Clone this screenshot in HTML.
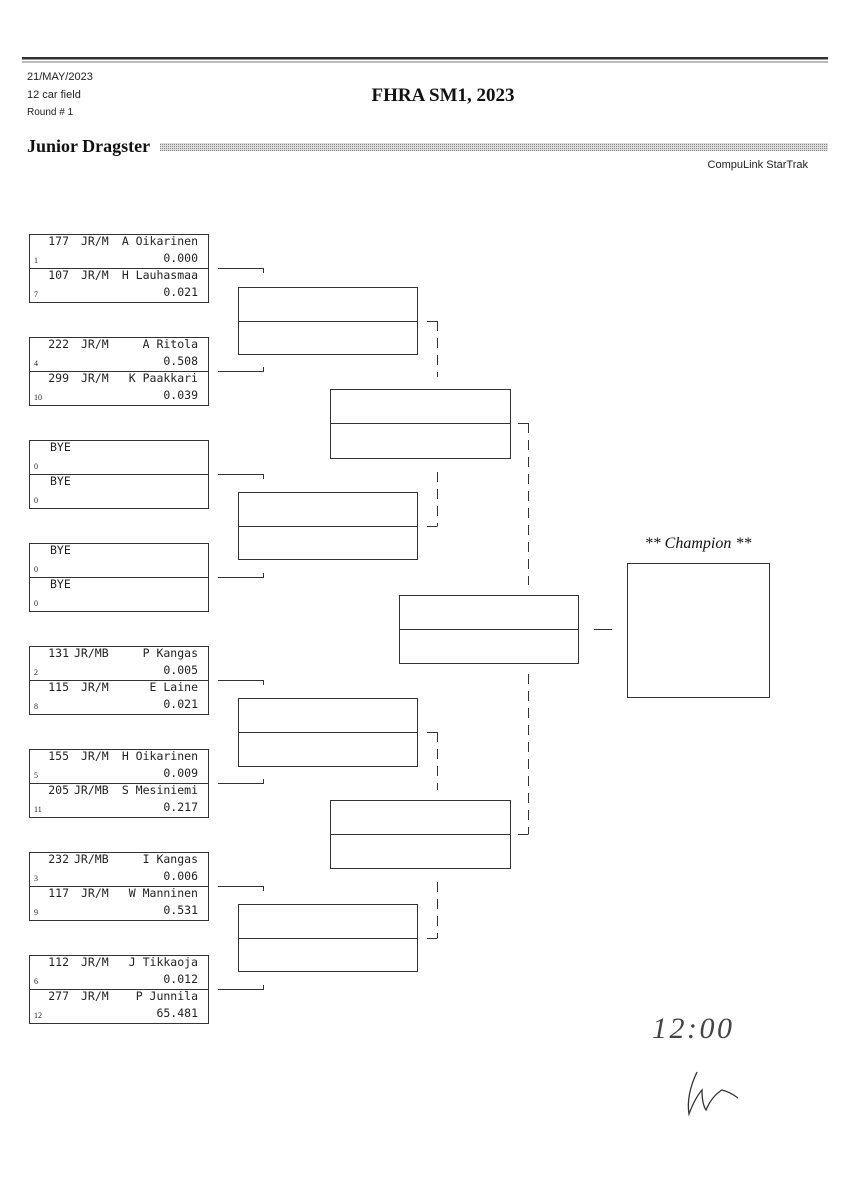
<!DOCTYPE html>
<html><head><meta charset="utf-8"><style>
html,body{margin:0;padding:0;background:#fff;}
svg{display:block}
.m{font-family:"DejaVu Sans Mono","Liberation Mono",monospace;font-size:11.5px;fill:#222}
.s{font-family:"Liberation Serif",serif;font-size:8px;fill:#222}
.h{font-family:"Liberation Sans",sans-serif;font-size:11px;fill:#222}
</style></head><body>
<svg width="848" height="1200" viewBox="0 0 848 1200" xmlns="http://www.w3.org/2000/svg">
<defs><pattern id="dots" width="2" height="2" patternUnits="userSpaceOnUse"><rect width="2" height="2" fill="#ddd"/><rect width="1" height="1" fill="#888"/></pattern></defs>
<rect x="22" y="57" width="806" height="2.5" fill="#333"/>
<rect x="22" y="61.5" width="806" height="1" fill="#777"/>
<text class="h" x="27" y="80">21/MAY/2023</text>
<text class="h" x="27" y="98">12 car field</text>
<text class="h" x="27" y="115" style="font-size:10px">Round # 1</text>
<text x="443" y="101" text-anchor="middle" style="font-family:'Liberation Serif',serif;font-weight:bold;font-size:19px" fill="#111">FHRA SM1, 2023</text>
<text x="27" y="152" style="font-family:'Liberation Serif',serif;font-weight:bold;font-size:18px" fill="#111">Junior Dragster</text>
<rect x="160" y="143" width="668" height="8" fill="url(#dots)"/>
<text class="h" x="808" y="168" text-anchor="end">CompuLink StarTrak</text>
<g stroke="#333" stroke-width="1" fill="none">
<rect x="29.5" y="234.5" width="179" height="68"/><line x1="29" y1="268.5" x2="208" y2="268.5"/>
<rect x="29.5" y="337.5" width="179" height="68"/><line x1="29" y1="371.5" x2="208" y2="371.5"/>
<rect x="29.5" y="440.5" width="179" height="68"/><line x1="29" y1="474.5" x2="208" y2="474.5"/>
<rect x="29.5" y="543.5" width="179" height="68"/><line x1="29" y1="577.5" x2="208" y2="577.5"/>
<rect x="29.5" y="646.5" width="179" height="68"/><line x1="29" y1="680.5" x2="208" y2="680.5"/>
<rect x="29.5" y="749.5" width="179" height="68"/><line x1="29" y1="783.5" x2="208" y2="783.5"/>
<rect x="29.5" y="852.5" width="179" height="68"/><line x1="29" y1="886.5" x2="208" y2="886.5"/>
<rect x="29.5" y="955.5" width="179" height="68"/><line x1="29" y1="989.5" x2="208" y2="989.5"/>
<path d="M218 268.5H263.5V273"/><path d="M218 371.5H263.5V367"/>
<path d="M218 474.5H263.5V479"/><path d="M218 577.5H263.5V573"/>
<path d="M218 680.5H263.5V685"/><path d="M218 783.5H263.5V779"/>
<path d="M218 886.5H263.5V891"/><path d="M218 989.5H263.5V985"/>
<rect x="238.5" y="287.5" width="179" height="67"/><line x1="238" y1="321.5" x2="417" y2="321.5"/>
<rect x="238.5" y="492.5" width="179" height="67"/><line x1="238" y1="526.5" x2="417" y2="526.5"/>
<rect x="238.5" y="698.5" width="179" height="68"/><line x1="238" y1="732.5" x2="417" y2="732.5"/>
<rect x="238.5" y="904.5" width="179" height="67"/><line x1="238" y1="938.5" x2="417" y2="938.5"/>
<rect x="330.5" y="389.5" width="180" height="69"/><line x1="330" y1="423.5" x2="510" y2="423.5"/>
<rect x="330.5" y="800.5" width="180" height="68"/><line x1="330" y1="834.5" x2="510" y2="834.5"/>
<rect x="399.5" y="595.5" width="179" height="68"/><line x1="399" y1="629.5" x2="578" y2="629.5"/>
<line x1="594" y1="629.5" x2="612" y2="629.5"/>
<rect x="627.5" y="563.5" width="142" height="134"/>
<path d="M427 321.5H437.5"/><path d="M427 526.5H437.5"/>
<path d="M427 732.5H437.5"/><path d="M427 938.5H437.5"/>
<path d="M518 423.5H528.5"/><path d="M518 834.5H528.5"/>
</g>
<g stroke="#333" stroke-width="1" fill="none" stroke-dasharray="10,7">
<line x1="437.5" y1="321" x2="437.5" y2="377"/>
<line x1="437.5" y1="472" x2="437.5" y2="526"/>
<line x1="437.5" y1="732" x2="437.5" y2="790"/>
<line x1="437.5" y1="882" x2="437.5" y2="938"/>
<line x1="528.5" y1="423" x2="528.5" y2="585"/>
<line x1="528.5" y1="674" x2="528.5" y2="834"/>
</g>
<text x="698" y="548" text-anchor="middle" style="font-family:'Liberation Serif',serif;font-style:italic;font-size:16px" fill="#111">** Champion **</text>
<g class="m">
<text x="69" y="245" text-anchor="end">177</text><text x="81" y="245">JR/M</text><text x="198" y="245" text-anchor="end">A Oikarinen</text><text x="198" y="262" text-anchor="end">0.000</text>
<text x="69" y="279" text-anchor="end">107</text><text x="81" y="279">JR/M</text><text x="198" y="279" text-anchor="end">H Lauhasmaa</text><text x="198" y="296" text-anchor="end">0.021</text>
<text x="69" y="348" text-anchor="end">222</text><text x="81" y="348">JR/M</text><text x="198" y="348" text-anchor="end">A Ritola</text><text x="198" y="365" text-anchor="end">0.508</text>
<text x="69" y="382" text-anchor="end">299</text><text x="81" y="382">JR/M</text><text x="198" y="382" text-anchor="end">K Paakkari</text><text x="198" y="399" text-anchor="end">0.039</text>
<text x="50" y="451">BYE</text><text x="50" y="485">BYE</text>
<text x="50" y="554">BYE</text><text x="50" y="588">BYE</text>
<text x="69" y="657" text-anchor="end">131</text><text x="74" y="657">JR/MB</text><text x="198" y="657" text-anchor="end">P Kangas</text><text x="198" y="674" text-anchor="end">0.005</text>
<text x="69" y="691" text-anchor="end">115</text><text x="81" y="691">JR/M</text><text x="198" y="691" text-anchor="end">E Laine</text><text x="198" y="708" text-anchor="end">0.021</text>
<text x="69" y="760" text-anchor="end">155</text><text x="81" y="760">JR/M</text><text x="198" y="760" text-anchor="end">H Oikarinen</text><text x="198" y="777" text-anchor="end">0.009</text>
<text x="69" y="794" text-anchor="end">205</text><text x="74" y="794">JR/MB</text><text x="198" y="794" text-anchor="end">S Mesiniemi</text><text x="198" y="811" text-anchor="end">0.217</text>
<text x="69" y="863" text-anchor="end">232</text><text x="74" y="863">JR/MB</text><text x="198" y="863" text-anchor="end">I Kangas</text><text x="198" y="880" text-anchor="end">0.006</text>
<text x="69" y="897" text-anchor="end">117</text><text x="81" y="897">JR/M</text><text x="198" y="897" text-anchor="end">W Manninen</text><text x="198" y="914" text-anchor="end">0.531</text>
<text x="69" y="966" text-anchor="end">112</text><text x="81" y="966">JR/M</text><text x="198" y="966" text-anchor="end">J Tikkaoja</text><text x="198" y="983" text-anchor="end">0.012</text>
<text x="69" y="1000" text-anchor="end">277</text><text x="81" y="1000">JR/M</text><text x="198" y="1000" text-anchor="end">P Junnila</text><text x="198" y="1017" text-anchor="end">65.481</text>
</g>
<g class="s">
<text x="34" y="263">1</text><text x="34" y="297">7</text>
<text x="34" y="366">4</text><text x="34" y="400">10</text>
<text x="34" y="469">0</text><text x="34" y="503">0</text>
<text x="34" y="572">0</text><text x="34" y="606">0</text>
<text x="34" y="675">2</text><text x="34" y="709">8</text>
<text x="34" y="778">5</text><text x="34" y="812">11</text>
<text x="34" y="881">3</text><text x="34" y="915">9</text>
<text x="34" y="984">6</text><text x="34" y="1018">12</text>
</g>
<text x="652" y="1038" style="font-family:'Liberation Serif',serif;font-style:italic;font-size:30px" fill="#444" textLength="80">12:00</text>
<path d="M697 1072 Q686 1095 689 1114 Q695 1098 702 1090 Q702 1104 706 1110 Q712 1096 722 1090 Q730 1092 738 1098" stroke="#333" stroke-width="1.3" fill="none"/>
</svg>
</body></html>
